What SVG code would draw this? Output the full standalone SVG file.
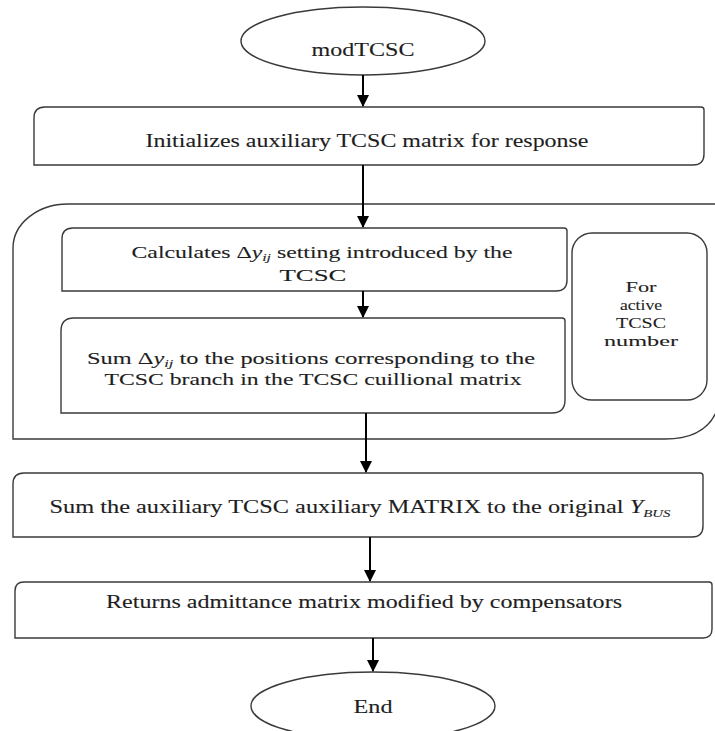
<svg xmlns="http://www.w3.org/2000/svg" width="715" height="731" viewBox="0 0 715 731">
<defs>
<marker id="ah" markerWidth="12" markerHeight="12" refX="11" refY="6" orient="auto" markerUnits="userSpaceOnUse">
<path d="M0,0 L12,6 L0,12 Z" fill="#000"/>
</marker>
<style>
.box{fill:#fff;stroke:#3a3a3a;stroke-width:1.4}
.t{font-family:"Liberation Serif","Times New Roman",serif;font-size:18px;fill:#1e1e1e;stroke:#1e1e1e;stroke-width:0.1;text-anchor:middle}
.m{font-size:16.5px}
.s{font-size:15.5px}
.sub{font-size:11px;font-style:italic}
.con{stroke:#000;stroke-width:2;fill:none}
</style>
</defs>
<rect width="715" height="731" fill="#fff"/>
<g id="loop">
<path class="box" d="M722,204 L68,204 A55,44 0 0 0 13,248 L13,439 L665,439 Q712,439 720,400"/>
</g>
<g id="start">
<ellipse class="box" cx="363" cy="41" rx="122" ry="34"/>
<text class="t" x="363" y="56" textLength="103" lengthAdjust="spacingAndGlyphs">modTCSC</text>
</g>
<g id="init">
<path class="box" d="M34,118 Q34,107 45,107 L701,107 Q704,107 704,110 L704,154 Q704,165 693,165 L34,165 Z"/>
<text class="t" x="367" y="147" textLength="443" lengthAdjust="spacingAndGlyphs">Initializes auxiliary TCSC matrix for response</text>
</g>
<g id="calc">
<path class="box" d="M62,239 Q62,228 73,228 L564,228 Q567,228 567,231 L567,280 Q567,291 556,291 L62,291 Z"/>
<text class="t m" x="322" y="258" textLength="381" lengthAdjust="spacingAndGlyphs">Calculates Δ<tspan font-style="italic">y</tspan><tspan class="sub" dy="3">ij</tspan><tspan dy="-3"> setting introduced by the</tspan></text>
<text class="t m" x="313" y="281" textLength="67" lengthAdjust="spacingAndGlyphs">TCSC</text>
</g>
<g id="sum">
<path class="box" d="M61,331 Q61,318 74,318 L562,318 Q565,318 565,321 L565,400 Q565,413 552,413 L61,413 Z"/>
<text class="t m" x="311" y="364" textLength="448" lengthAdjust="spacingAndGlyphs">Sum Δ<tspan font-style="italic">y</tspan><tspan class="sub" dy="3">ij</tspan><tspan dy="-3"> to the positions corresponding to the</tspan></text>
<text class="t m" x="313" y="385" textLength="417" lengthAdjust="spacingAndGlyphs">TCSC branch in the TCSC cuillional matrix</text>
</g>
<g id="forloop">
<rect class="box" x="572" y="233" width="135" height="167" rx="20" ry="20"/>
<text class="t s" x="641" y="292" textLength="31" lengthAdjust="spacingAndGlyphs">For</text>
<text class="t s" x="641" y="310" textLength="42" lengthAdjust="spacingAndGlyphs">active</text>
<text class="t s" x="641" y="328" textLength="50" lengthAdjust="spacingAndGlyphs">TCSC</text>
<text class="t s" x="641" y="346" textLength="74" lengthAdjust="spacingAndGlyphs">number</text>
</g>
<g id="sumbus">
<path class="box" d="M13,484 Q13,473 24,473 L700,473 Q703,473 703,476 L703,526 Q703,537 692,537 L13,537 Z"/>
<text class="t" x="360" y="513" textLength="621" lengthAdjust="spacingAndGlyphs">Sum the auxiliary TCSC auxiliary MATRIX to the original <tspan font-style="italic">Y</tspan><tspan class="sub" dy="4">BUS</tspan></text>
</g>
<g id="returns">
<path class="box" d="M15,591 Q15,582 24,582 L709,582 Q712,582 712,585 L712,629 Q712,638 703,638 L15,638 Z"/>
<text class="t" x="364" y="608" textLength="516" lengthAdjust="spacingAndGlyphs">Returns admittance matrix modified by compensators</text>
</g>
<g id="end">
<ellipse class="box" cx="373" cy="706" rx="122" ry="34"/>
<text class="t" x="373" y="713" textLength="39" lengthAdjust="spacingAndGlyphs">End</text>
</g>
<g id="connectors">
<line class="con" x1="363" y1="75" x2="363" y2="106" marker-end="url(#ah)"/>
<line class="con" x1="363" y1="165" x2="363" y2="227" marker-end="url(#ah)"/>
<line class="con" x1="363" y1="291" x2="363" y2="317" marker-end="url(#ah)"/>
<line class="con" x1="366" y1="413" x2="366" y2="472" marker-end="url(#ah)"/>
<line class="con" x1="370" y1="537" x2="370" y2="581" marker-end="url(#ah)"/>
<line class="con" x1="373" y1="638" x2="373" y2="671" marker-end="url(#ah)"/>
</g>
</svg>
